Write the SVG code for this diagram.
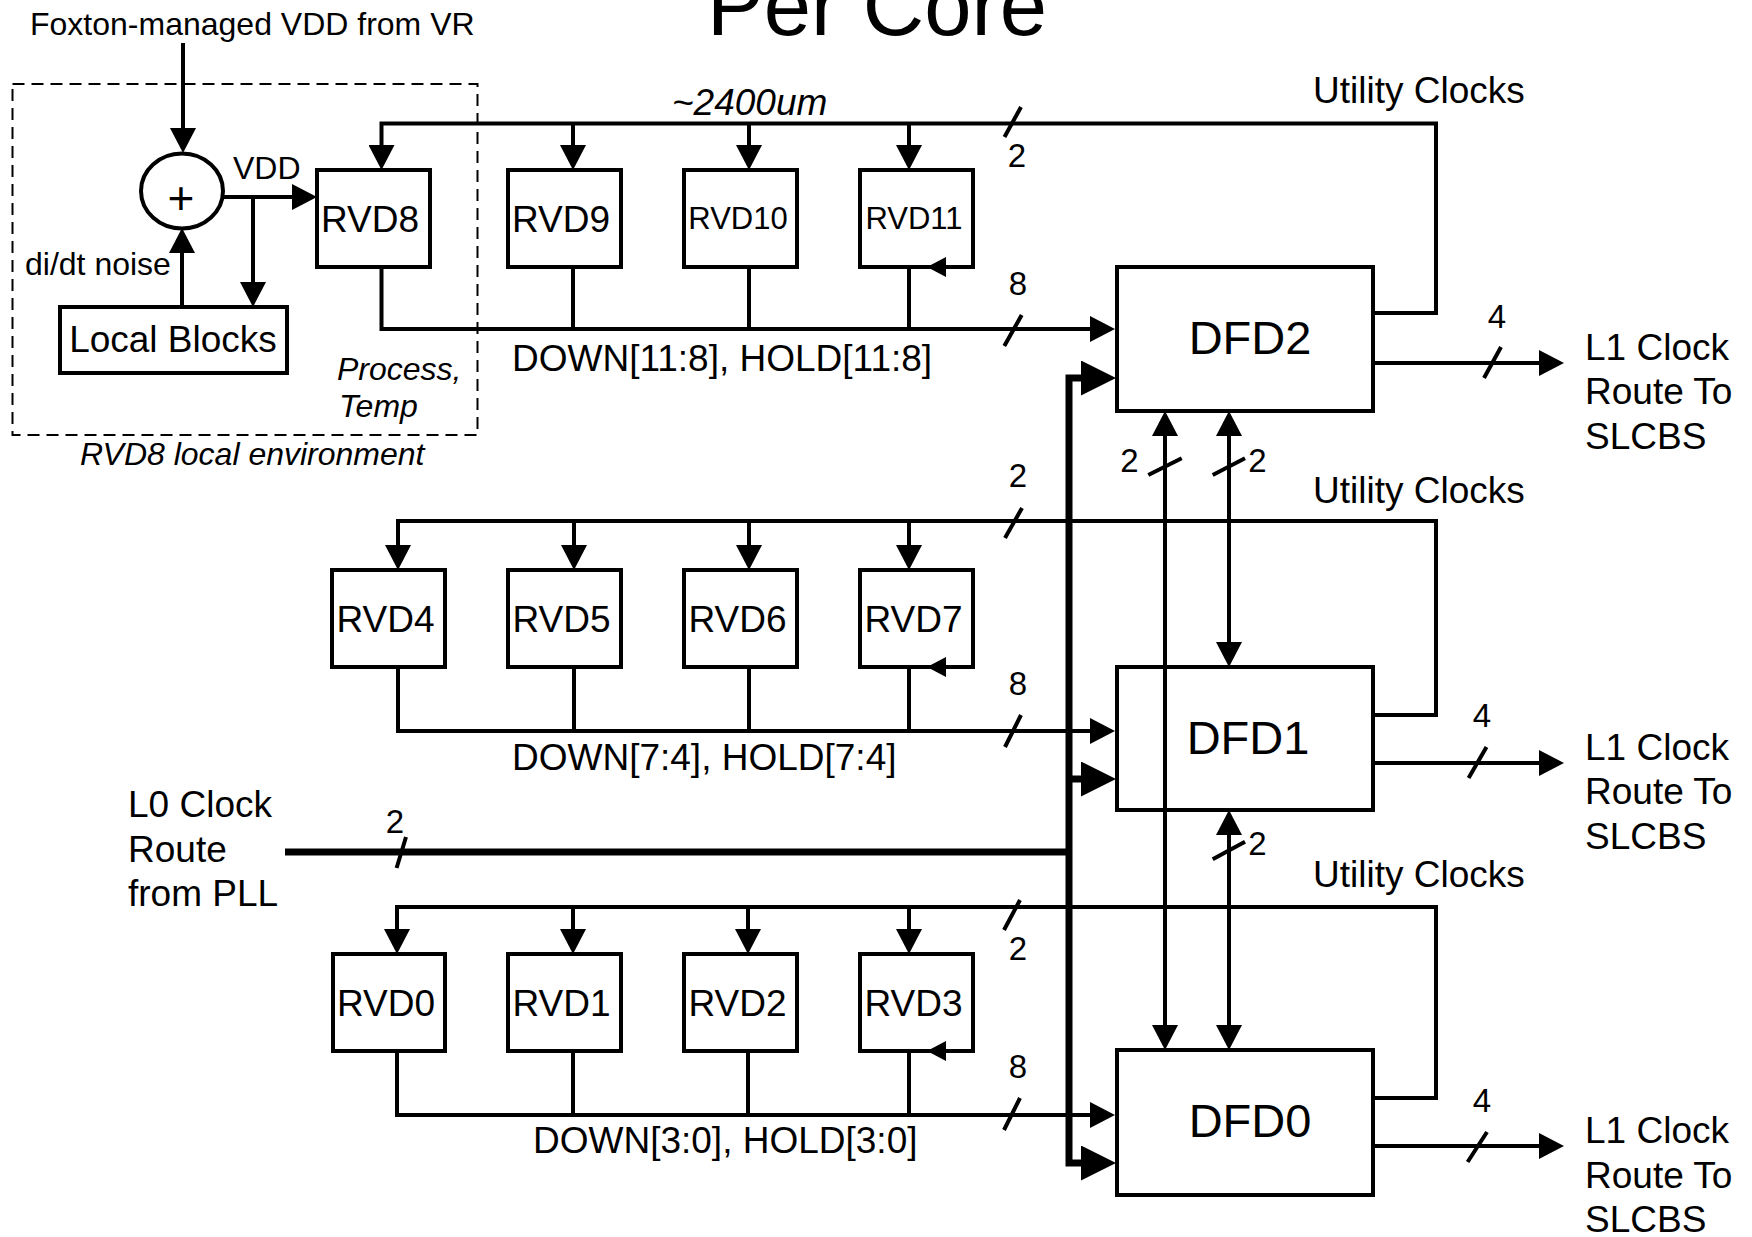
<svg xmlns="http://www.w3.org/2000/svg" width="1752" height="1237" viewBox="0 0 1752 1237">
<style>
.ln{fill:none;stroke:#000;stroke-width:4;stroke-linejoin:miter}
.th{fill:none;stroke:#000;stroke-width:7;stroke-linejoin:miter}
.box{fill:#fff;stroke:#000;stroke-width:4}
.env{fill:none;stroke:#000;stroke-width:2;stroke-dasharray:12 7}
text{font-family:"Liberation Sans",Arial,Helvetica,sans-serif;fill:#000}
.s32{font-size:32px}
.s33{font-size:33px}
.s37{font-size:37px}
.s31{font-size:31px}
.dfd{font-size:47px}
.it{font-style:italic}
.m{text-anchor:middle}
.ar{marker-end:url(#a)}
.ar2{marker-start:url(#a);marker-end:url(#a)}
</style>
<defs>
<marker id="a" markerUnits="userSpaceOnUse" viewBox="0 0 25 26" markerWidth="25" markerHeight="26" refX="15" refY="13" orient="auto-start-reverse"><path d="M0,0L25,13L0,26z" fill="#000"/></marker>
<marker id="at" markerUnits="userSpaceOnUse" viewBox="0 0 35 35" markerWidth="35" markerHeight="35" refX="25" refY="17.5" orient="auto-start-reverse"><path d="M0,0L35,17.5L0,35z" fill="#000"/></marker>
<path id="fb" d="M0,0L19,-10L19,10z" fill="#000"/>
</defs>
<rect width="1752" height="1237" fill="#fff"/>

<text x="877" y="35" font-size="85" class="m">Per Core</text>

<g id="env">
<rect class="env" x="12.5" y="84" width="465" height="351"/>
<text x="80" y="465" class="s32 it">RVD8 local environment</text>
<text x="337" y="380" class="s32 it">Process,</text>
<text x="339" y="417" class="s32 it">Temp</text>
</g>

<g id="vr-label"><text x="30" y="35" class="s32">Foxton-managed VDD from VR</text></g>

<g id="adder">
<ellipse cx="182" cy="191" rx="41" ry="37.5" fill="#fff" stroke="#000" stroke-width="4"/>
<text x="181" y="214" font-size="46" class="m">+</text>
</g>

<g id="local-blocks">
<rect class="box" x="60" y="307" width="227" height="66"/>
<text x="173" y="352" class="s37 m">Local Blocks</text>
</g>

<g id="RVD8"><rect class="box" x="317" y="170" width="113" height="97"/><text x="370" y="232" class="s37 m">RVD8</text></g>
<g id="RVD9"><rect class="box" x="508" y="170" width="113" height="97"/><text x="561" y="232" class="s37 m">RVD9</text></g>
<g id="RVD10"><rect class="box" x="684" y="170" width="113" height="97"/><text x="738" y="229" class="s31 m">RVD10</text></g>
<g id="RVD11"><rect class="box" x="860" y="170" width="113" height="97"/><text x="914" y="229" class="s31 m">RVD11</text><use href="#fb" x="927" y="267"/></g>

<g id="RVD4"><rect class="box" x="332" y="570" width="113" height="97"/><text x="385.5" y="632" class="s37 m">RVD4</text></g>
<g id="RVD5"><rect class="box" x="508" y="570" width="113" height="97"/><text x="561.5" y="632" class="s37 m">RVD5</text></g>
<g id="RVD6"><rect class="box" x="684" y="570" width="113" height="97"/><text x="737.5" y="632" class="s37 m">RVD6</text></g>
<g id="RVD7"><rect class="box" x="860" y="570" width="113" height="97"/><text x="913.5" y="632" class="s37 m">RVD7</text><use href="#fb" x="927" y="667"/></g>

<g id="RVD0"><rect class="box" x="333" y="954" width="112" height="97"/><text x="386" y="1016" class="s37 m">RVD0</text></g>
<g id="RVD1"><rect class="box" x="508" y="954" width="113" height="97"/><text x="561.5" y="1016" class="s37 m">RVD1</text></g>
<g id="RVD2"><rect class="box" x="684" y="954" width="113" height="97"/><text x="737.5" y="1016" class="s37 m">RVD2</text></g>
<g id="RVD3"><rect class="box" x="860" y="954" width="113" height="97"/><text x="913.5" y="1016" class="s37 m">RVD3</text><use href="#fb" x="927" y="1051"/></g>

<g id="DFD2"><rect class="box" x="1117" y="267" width="256" height="144"/><text x="1250" y="354" class="dfd m">DFD2</text></g>
<g id="DFD1"><rect class="box" x="1117" y="667" width="256" height="143"/><text x="1248" y="754" class="dfd m">DFD1</text></g>
<g id="DFD0"><rect class="box" x="1117" y="1050" width="256" height="145"/><text x="1250" y="1137" class="dfd m">DFD0</text></g>

<g id="connectors">
<path class="ln ar" d="M183,43V143"/>
<path class="ln ar" d="M182,307V238"/>
<path class="ln ar" d="M222,197H307"/>
<path class="ln ar" d="M253,197V297"/>

<path class="ln ar" d="M1373,313H1436V123.5H381.5V160"/>
<path class="ln ar" d="M573,123.5V160"/>
<path class="ln ar" d="M749,123.5V160"/>
<path class="ln ar" d="M909,123.5V160"/>
<path class="ln ar" d="M381.5,267V329H1105"/>
<path class="ln" d="M573,267V329M749,267V329M909,267V329"/>
<path class="ln ar" d="M1373,363H1554"/>

<path class="ln ar" d="M1373,715H1436V521H398V560"/>
<path class="ln ar" d="M574,521V560"/>
<path class="ln ar" d="M749,521V560"/>
<path class="ln ar" d="M909,521V560"/>
<path class="ln ar" d="M398,667V731H1105"/>
<path class="ln" d="M574,667V731M749,667V731M909,667V731"/>
<path class="ln ar" d="M1373,763H1554"/>

<path class="ln ar" d="M1373,1098H1436V907H397V944"/>
<path class="ln ar" d="M573,907V944"/>
<path class="ln ar" d="M748,907V944"/>
<path class="ln ar" d="M909,907V944"/>
<path class="ln ar" d="M397,1051V1115H1105"/>
<path class="ln" d="M573,1051V1115M748,1051V1115M909,1051V1115"/>
<path class="ln ar" d="M1373,1146H1554"/>

<path class="th" d="M285,852H1069"/>
<path class="th" d="M1106,378H1069V1163H1106" marker-start="url(#at)" marker-end="url(#at)"/>
<path class="th" d="M1069,779H1106" marker-end="url(#at)"/>

<path class="ln ar2" d="M1165,421V1040"/>
<path class="ln ar2" d="M1229,421V657"/>
<path class="ln ar2" d="M1229,820V1040"/>

<path class="ln" d="M1021,107L1004.5,137M1021.7,315L1004.3,346M1022,508L1005,538M1021,715L1005,747M1020,900L1004,930M1020,1098L1004,1130M406,837L396.6,868M1501,347L1484,378M1486.5,747L1468.6,778M1487,1132L1467.6,1162M1148.3,475L1181.7,458.3M1212.7,475L1245,458.3M1212.7,859.3L1245,841.7"/>
</g>

<g id="labels">
<text x="233" y="179" class="s32">VDD</text>
<text x="25" y="275" class="s32">di/dt noise</text>
<text x="672" y="115" class="s37 it">~2400um</text>
<text x="1017" y="167" class="s33 m">2</text>
<text x="1018" y="295" class="s33 m">8</text>
<text x="1018" y="487" class="s33 m">2</text>
<text x="1018" y="695" class="s33 m">8</text>
<text x="1018" y="960" class="s33 m">2</text>
<text x="1018" y="1078" class="s33 m">8</text>
<text x="395" y="833" class="s33 m">2</text>
<text x="1497" y="328" class="s33 m">4</text>
<text x="1482" y="727" class="s33 m">4</text>
<text x="1482" y="1112" class="s33 m">4</text>
<text x="1129.5" y="472" class="s33 m">2</text>
<text x="1257.5" y="472" class="s33 m">2</text>
<text x="1257.5" y="855" class="s33 m">2</text>
<text x="512" y="371" class="s37">DOWN[11:8], HOLD[11:8]</text>
<text x="512" y="770" class="s37">DOWN[7:4], HOLD[7:4]</text>
<text x="533" y="1153" class="s37">DOWN[3:0], HOLD[3:0]</text>
<text x="1313" y="103" class="s37">Utility Clocks</text>
<text x="1313" y="503" class="s37">Utility Clocks</text>
<text x="1313" y="887" class="s37">Utility Clocks</text>
<text class="s37"><tspan x="1585" y="360">L1 Clock</tspan><tspan x="1585" y="404">Route To</tspan><tspan x="1585" y="449">SLCBS</tspan></text>
<text class="s37"><tspan x="1585" y="760">L1 Clock</tspan><tspan x="1585" y="804">Route To</tspan><tspan x="1585" y="849">SLCBS</tspan></text>
<text class="s37"><tspan x="1585" y="1143">L1 Clock</tspan><tspan x="1585" y="1188">Route To</tspan><tspan x="1585" y="1232">SLCBS</tspan></text>
<text class="s37"><tspan x="128" y="817">L0 Clock</tspan><tspan x="128" y="862">Route</tspan><tspan x="128" y="906">from PLL</tspan></text>
</g>
</svg>
